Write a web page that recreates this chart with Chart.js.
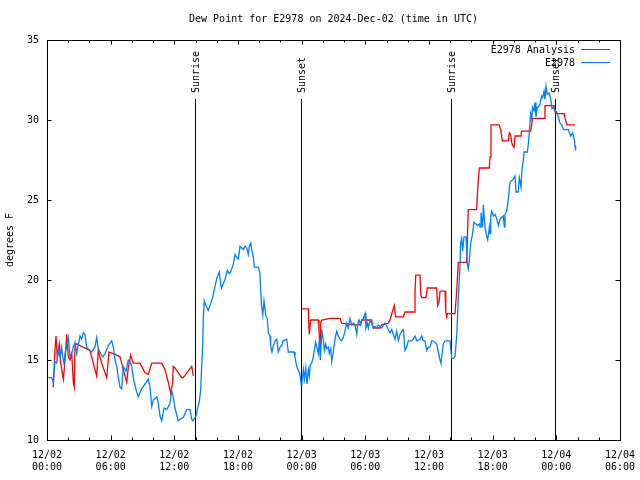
<!DOCTYPE html>
<html>
<head>
<meta charset="utf-8">
<script src="https://cdn.jsdelivr.net/npm/chart.js@4/dist/chart.umd.min.js"></script>
<style>
  html, body { margin: 0; padding: 0; background: #fff; }
  canvas { display: block; }
</style>
</head>
<body>
<canvas id="dewChart" width="640" height="480"></canvas>
<script>
// hours since 12/02 00:00 UTC
const xTickLabels = [
  ["12/02", "00:00"], ["12/02", "06:00"], ["12/02", "12:00"], ["12/02", "18:00"],
  ["12/03", "00:00"], ["12/03", "06:00"], ["12/03", "12:00"], ["12/03", "18:00"],
  ["12/04", "00:00"], ["12/04", "06:00"]
];
const yTicks = [10, 15, 20, 25, 30, 35];

const eventLabels = ["Sunrise", "Sunset", "Sunrise", "Sunset"];
const eventHours = [13.95, 23.94, 38.07, 47.92];

const analysisHours = [
  0.59, 0.75, 0.85, 0.97, 1.16, 1.29, 1.54, 1.70, 1.86, 2.01, 2.17, 2.33, 2.48, 2.57, 2.64, 2.80,
  3.11, 4.05, 4.36, 4.68, 4.83, 5.15, 5.63, 5.84, 6.57, 6.88, 7.04, 7.51, 7.66, 7.89, 8.13, 8.76,
  8.92, 9.24, 9.55, 9.87, 10.81, 11.12, 11.43, 11.66, 11.84, 11.90, 12.06, 12.69, 12.84, 13.64, 13.79,
  18.0,
  24.00, 24.63, 24.66, 24.72, 24.85, 25.57, 25.63, 25.73, 25.79, 25.89, 26.67, 27.61, 27.77, 28.96,
  29.50, 29.66, 30.60, 30.66, 30.75, 31.38, 31.54, 32.16, 32.32, 32.54, 32.73, 32.86, 33.58, 33.74,
  34.61, 34.68, 34.75, 35.15, 35.24, 35.31, 35.72, 35.84, 36.72, 36.82, 36.94, 37.04, 37.51, 37.58,
  37.67, 37.73, 38.45, 38.61, 38.76, 39.55, 39.70, 40.49, 40.58, 40.74, 41.68, 41.75, 41.84, 42.62,
  42.76, 42.91, 43.48, 43.57, 43.70, 43.79, 43.89, 44.01, 44.10, 44.67, 44.73, 45.58, 45.77, 46.84,
  46.93, 47.78, 47.88, 48.04, 48.73, 48.82, 49.00, 49.76
];
const analysisValues = [
  13.3, 15.6, 16.5, 15.2, 16.0, 14.8, 13.8, 15.0, 16.6, 15.2, 15.0, 15.4, 13.6, 13.3, 16.0, 16.0,
  15.9, 15.6, 14.8, 14.0, 15.6, 14.8, 13.9, 15.5, 15.3, 15.2, 14.8, 13.6, 14.5, 15.3, 14.8, 14.8,
  14.6, 14.2, 14.1, 14.8, 14.8, 14.4, 13.6, 12.9, 13.6, 14.6, 14.5, 13.9, 13.9, 14.6, 14.0,
  null,
  18.2, 18.2, 17.4, 16.6, 17.5, 17.5, 16.9, 15.8, 17.3, 17.5, 17.6, 17.6, 17.3, 17.2,
  17.2, 17.5, 17.5, 17.2, 17.0, 17.0, 17.2, 17.3, 17.5, 18.0, 18.4, 17.7, 17.7, 18.0,
  18.0, 19.2, 20.3, 20.3, 19.0, 18.9, 18.9, 19.5, 19.5, 18.4, 18.6, 19.3, 19.3, 18.0,
  17.7, 17.9, 17.9, 19.3, 21.1, 21.1, 24.4, 24.4, 25.6, 27.0, 27.0, 27.7, 29.7, 29.7,
  29.4, 28.7, 28.7, 29.2, 29.1, 28.6, 28.4, 28.3, 29.0, 29.0, 29.3, 29.3, 30.1, 30.1,
  30.9, 30.9, 30.5, 30.4, 30.4, 30.1, 29.7, 29.7
];

const obsHours = [
  0.12, 0.44, 0.59, 0.75, 0.91, 1.07, 1.23, 1.38, 1.48, 1.60, 1.70, 1.86, 2.01, 2.17, 2.33, 2.48,
  2.64, 2.80, 2.95, 3.11, 3.27, 3.42, 3.58, 3.74, 4.05, 4.21, 4.52, 4.68, 4.83, 4.99, 5.25, 5.47,
  5.78, 6.10, 6.25, 6.41, 6.57, 6.72, 6.88, 7.04, 7.19, 7.45, 7.66, 7.82, 7.98, 8.13, 8.45, 8.60,
  8.92, 9.24, 9.55, 9.71, 9.87, 10.02, 10.34, 10.49, 10.65, 10.81, 11.03, 11.28, 11.59, 11.75, 11.90, 12.06,
  12.37, 12.53, 12.84, 13.17, 13.48, 13.64, 13.76, 14.04, 14.16, 14.35, 14.48, 14.58, 14.67, 14.73, 14.82, 14.98,
  15.20, 15.36, 15.61, 15.74, 15.93, 16.05, 16.24, 16.37, 16.46, 16.62, 16.77, 16.99, 17.18, 17.31, 17.56, 17.72,
  17.88, 18.03, 18.19, 18.35, 18.50, 18.66, 18.82, 18.97, 19.07, 19.20, 19.29, 19.45, 19.54, 19.92, 20.07, 20.14,
  20.23, 20.33, 20.45, 20.54, 20.64, 20.76, 20.86, 21.02, 21.08, 21.20, 21.33, 21.49, 21.65, 21.80, 21.96, 22.12,
  22.27, 22.59, 22.74, 23.28, 23.37, 23.47, 23.59, 23.84, 23.94, 24.03, 24.16, 24.25, 24.38, 24.50, 24.63, 24.72,
  24.81, 24.94, 25.10, 25.19, 25.32, 25.42, 25.57, 25.67, 25.76, 25.89, 26.04, 26.14, 26.26, 26.36, 26.51, 26.61,
  26.74, 26.83, 26.98, 27.14, 27.30, 27.45, 27.61, 27.77, 27.92, 28.08, 28.24, 28.39, 28.55, 28.71, 28.87, 29.03,
  29.19, 29.28, 29.40, 29.57, 29.66, 29.81, 29.97, 30.06, 30.19, 30.28, 30.44, 30.60, 30.75, 30.91, 31.07, 31.22,
  31.54, 31.85, 32.11, 32.23, 32.33, 32.49, 32.64, 32.80, 32.95, 33.11, 33.27, 33.43, 33.58, 33.74, 33.90, 34.05,
  34.37, 34.52, 34.68, 34.84, 35.15, 35.31, 35.46, 35.62, 35.78, 35.93, 36.09, 36.25, 36.40, 36.72, 36.88, 37.04,
  37.13, 37.25, 37.35, 37.51, 37.98, 38.14, 38.29, 38.45, 38.61, 38.76, 38.92, 38.98, 39.08, 39.17, 39.30, 39.49,
  39.55, 39.61, 39.70, 39.80, 39.93, 40.08, 40.24, 40.43, 40.55, 40.74, 40.81, 40.90, 41.06, 41.12, 41.28, 41.44,
  41.53, 41.69, 41.75, 41.82, 41.91, 42.07, 42.23, 42.39, 42.54, 42.70, 43.01, 43.10, 43.16, 43.32, 43.48, 43.63,
  43.79, 43.94, 44.10, 44.20, 44.41, 44.51, 44.67, 44.76, 44.89, 44.96, 45.27, 45.36, 45.46, 45.58, 45.68, 45.77,
  45.90, 45.99, 46.08, 46.21, 46.30, 46.46, 46.62, 46.71, 46.84, 46.93, 47.03, 47.15, 47.34, 47.47, 47.59, 47.72,
  47.88, 48.04, 48.19, 48.35, 48.51, 48.66, 48.91, 49.13, 49.35, 49.54, 49.66, 49.76, 49.82
];
const obsValues = [
  13.9, 13.9, 13.6, 14.9, 14.8, 15.6, 15.2, 15.8, 15.2, 14.8, 15.4, 15.9, 16.4, 15.2, 15.4, 15.8,
  16.1, 15.4, 16.0, 16.5, 16.3, 16.7, 16.6, 15.8, 15.6, 15.5, 15.8, 16.4, 15.7, 15.5, 15.2, 15.4,
  15.9, 16.2, 15.8, 15.0, 14.6, 13.9, 13.3, 13.2, 14.6, 14.3, 15.0, 14.9, 14.6, 13.9, 13.0, 12.7,
  13.2, 13.5, 13.8, 13.3, 12.1, 12.5, 12.7, 12.3, 11.5, 11.2, 12.0, 11.9, 12.3, 13.1, 12.7, 12.0,
  11.2, 11.3, 11.4, 11.9, 11.9, 11.3, 11.2, 11.5, 11.9, 12.4, 13.1, 14.6, 15.9, 17.6, 18.7, 18.4,
  18.1, 18.4, 18.9, 19.3, 19.9, 20.2, 20.5, 19.7, 19.5, 19.8, 20.0, 20.6, 20.4, 20.5, 21.0, 21.6,
  21.4, 21.3, 22.1, 22.0, 21.9, 22.1, 22.0, 21.6, 22.1, 22.3, 21.9, 21.4, 20.8, 20.8, 20.4, 19.3,
  18.3, 17.8, 18.7, 18.2, 17.7, 17.6, 16.7, 16.5, 15.9, 15.5, 15.9, 16.2, 16.3, 15.5, 15.8, 15.9,
  16.2, 16.3, 15.5, 15.5, 15.2, 14.8, 14.5, 14.1, 13.5, 13.6, 14.4, 13.8, 14.5, 13.5, 14.4, 14.0,
  14.7, 14.8, 15.2, 15.6, 16.1, 15.8, 15.4, 16.3, 15.0, 16.9, 16.2, 15.6, 16.0, 15.7, 15.8, 15.4,
  15.7, 14.9, 15.5, 16.3, 16.8, 16.5, 16.3, 16.2, 16.4, 16.8, 17.3, 17.0, 17.6, 17.2, 17.3, 17.2,
  16.6, 17.2, 17.5, 17.2, 17.5, 17.6, 17.9, 17.0, 17.3, 17.0, 17.5, 17.3, 17.0, 17.1, 17.0, 17.2,
  17.0, 17.3, 17.0, 16.8, 16.7, 16.9, 16.6, 16.3, 16.8, 16.2, 16.6, 16.8, 16.9, 15.6, 15.8, 16.2,
  16.2, 16.3, 16.5, 16.2, 16.3, 16.5, 16.2, 16.2, 15.6, 15.8, 15.8, 16.2, 16.2, 16.0, 15.5, 15.0,
  14.8, 15.5, 16.0, 16.2, 16.2, 15.1, 15.1, 15.2, 16.5, 18.8, 20.9, 22.3, 22.6, 21.8, 22.7, 22.7,
  22.0, 21.0, 20.7, 21.2, 22.3, 22.8, 23.6, 23.5, 23.4, 23.5, 23.3, 24.2, 23.3, 24.7, 23.3, 22.7,
  22.5, 23.3, 22.9, 24.0, 24.3, 24.0, 24.1, 23.8, 23.4, 23.8, 24.0, 23.3, 24.1, 24.3, 25.1, 26.1,
  26.2, 26.3, 26.5, 25.5, 25.5, 26.4, 25.8, 26.9, 27.5, 28.0, 28.0, 28.5, 29.3, 30.4, 30.1, 30.8,
  30.6, 31.1, 30.2, 30.8, 30.8, 31.0, 31.5, 31.4, 31.8, 31.3, 32.1, 31.6, 31.7, 31.3, 30.7, 30.8,
  30.6, 30.5, 30.2, 29.8, 29.7, 29.4, 29.4, 29.4, 29.0, 29.2, 28.9, 28.4, 28.1
];

const FONT = "'DejaVu Sans Mono', 'Liberation Mono', monospace";

const overlay = {
  id: "overlay",
  beforeDatasetsDraw(chart) {
    const { ctx, chartArea: a, scales: { x } } = chart;
    ctx.save();
    ctx.strokeStyle = "#000";
    ctx.fillStyle = "#000";
    ctx.lineWidth = 1;
    ctx.font = "10px " + FONT;
    eventHours.forEach((h, i) => {
      const px = Math.round(x.getPixelForValue(h)) + 0.5;
      ctx.beginPath();
      ctx.moveTo(px, a.top + 59);
      ctx.lineTo(px, a.bottom);
      ctx.stroke();
      ctx.save();
      ctx.translate(px + 1, a.top + 53);
      ctx.rotate(-Math.PI / 2);
      ctx.textAlign = "left";
      ctx.textBaseline = "middle";
      ctx.fillText(eventLabels[i], 0, 0);
      ctx.restore();
    });
    ctx.restore();
  },
  afterDraw(chart) {
    const { ctx, chartArea: a, scales: { x, y } } = chart;
    ctx.save();
    ctx.strokeStyle = "#000";
    ctx.lineWidth = 1;
    // border box
    ctx.strokeRect(Math.round(a.left) + 0.5, Math.round(a.top) + 0.5,
      Math.round(a.right - a.left), Math.round(a.bottom - a.top));
    // inward ticks
    ctx.beginPath();
    for (let h = 0; h <= 54; h += 2) {
      const px = Math.round(x.getPixelForValue(h)) + 0.5;
      const len = h % 6 === 0 ? 4.5 : 2.5;
      ctx.moveTo(px, a.bottom); ctx.lineTo(px, a.bottom - len);
      ctx.moveTo(px, a.top); ctx.lineTo(px, a.top + len);
    }
    yTicks.forEach(v => {
      const py = Math.round(y.getPixelForValue(v)) + 0.5;
      ctx.moveTo(a.left, py); ctx.lineTo(a.left + 4.5, py);
      ctx.moveTo(a.right, py); ctx.lineTo(a.right - 4.5, py);
    });
    ctx.stroke();

    // title
    ctx.fillStyle = "#000";
    ctx.font = "10px " + FONT;
    ctx.textAlign = "center";
    ctx.textBaseline = "middle";
    ctx.fillText("Dew Point for E2978 on 2024-Dec-02 (time in UTC)", (a.left + a.right) / 2, 19);

    // legend
    ctx.textAlign = "right";
    chart.data.datasets.forEach((ds, i) => {
      const ly = a.top + 10 + i * 13;
      ctx.fillStyle = "#000";
      ctx.fillText(ds.label, a.right - 45, ly);
      ctx.strokeStyle = ds.borderColor;
      ctx.lineWidth = 1;
      ctx.beginPath();
      ctx.moveTo(a.right - 39, Math.round(ly) - 0.5);
      ctx.lineTo(a.right - 10, Math.round(ly) - 0.5);
      ctx.stroke();
    });
    ctx.restore();
  }
};

new Chart(document.getElementById("dewChart"), {
  type: "line",
  data: {
    datasets: [
      {
        label: "E2978 Analysis",
        data: analysisHours.map((h, i) => ({ x: h, y: analysisValues[i] })),
        borderColor: "#ff0000",
        borderWidth: 1.3,
        pointRadius: 0,
        tension: 0,
        spanGaps: false,
        order: 1
      },
      {
        label: "E2978",
        data: obsHours.map((h, i) => ({ x: h, y: obsValues[i] })),
        borderColor: "#0080ff",
        borderWidth: 1.3,
        pointRadius: 0,
        tension: 0,
        order: 0
      }
    ]
  },
  options: {
    responsive: false,
    animation: false,
    devicePixelRatio: 1,
    events: [],
    layout: { padding: { top: 40, right: 20, bottom: 0, left: 0 } },
    plugins: {
      legend: { display: false },
      title: { display: false },
      tooltip: { enabled: false }
    },
    scales: {
      x: {
        type: "linear",
        min: 0,
        max: 54,
        grid: { display: false, drawTicks: false },
        border: { display: false },
        ticks: {
          stepSize: 6,
          autoSkip: false,
          maxRotation: 0,
          padding: 9,
          color: "#000",
          font: { family: FONT, size: 10, lineHeight: 1.2 },
          callback: v => xTickLabels[Math.round(v / 6)]
        },
        afterFit: s => { s.height = 40; s.paddingLeft = 0; s.paddingRight = 0; }
      },
      y: {
        min: 10,
        max: 35,
        grid: { display: false, drawTicks: false },
        border: { display: false },
        ticks: {
          stepSize: 5,
          padding: 8,
          color: "#000",
          font: { family: FONT, size: 10 }
        },
        title: {
          display: true,
          text: "degrees F",
          color: "#000",
          font: { family: FONT, size: 10 },
          padding: { top: 4, bottom: 4 }
        },
        afterFit: s => { s.width = 47; s.paddingTop = 0; s.paddingBottom = 0; }
      }
    }
  },
  plugins: [overlay]
});
</script>
</body>
</html>
